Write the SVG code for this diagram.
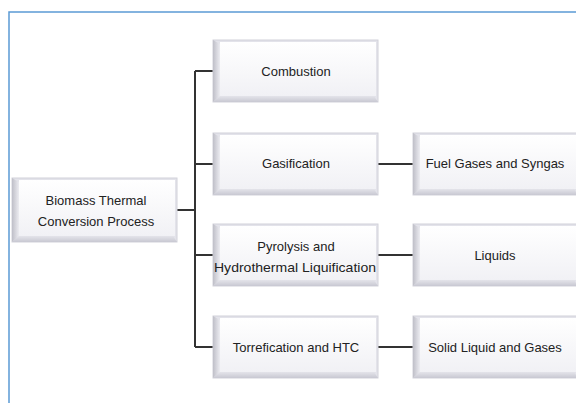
<svg xmlns="http://www.w3.org/2000/svg" width="576" height="403" viewBox="0 0 576 403">
<defs>
<linearGradient id="face" x1="0" y1="0" x2="0" y2="1">
<stop offset="0" stop-color="#ffffff"/>
<stop offset="1" stop-color="#f1f1f5"/>
</linearGradient>
<linearGradient id="lside" x1="0" y1="0" x2="1" y2="0">
<stop offset="0" stop-color="#bfbfc8"/>
<stop offset="1" stop-color="#ececf1"/>
</linearGradient>
<linearGradient id="bside" x1="0" y1="0" x2="0" y2="1">
<stop offset="0" stop-color="#e4e4ea"/>
<stop offset="1" stop-color="#c8c8d2"/>
</linearGradient>
</defs>
<style>
.edge{fill:#e3e3ea;stroke:#d2d2da;stroke-width:1}
.face{fill:url(#face)}
.ls{fill:url(#lside)}
.bs{fill:url(#bside)}
.t{font-family:"Liberation Sans",Arial,sans-serif;font-size:13px;fill:#222;text-anchor:middle}
.c{stroke:#333;stroke-width:2;fill:none}
.frame{stroke:#5b9bd5;stroke-width:1.5;fill:none}
</style>
<path class="frame" d="M9,403 V12 H576"/>
<g id="connectors">
<path class="c" d="M177,210 H195"/>
<path class="c" d="M195,71 V347"/>
<path class="c" d="M195,71 H213 M195,164 H213 M195,255 H213 M195,347 H213"/>
<path class="c" d="M378,164 H413 M378,255 H413 M378,347 H413"/>
</g>
<g id="biomass">
<rect class="edge" x="12" y="178" width="165" height="64"/>
<polygon class="ls" points="12,178 19,182 19,236 12,242"/>
<polygon class="bs" points="19,236 173,236 177,242 12,242"/>
<rect class="face" x="19" y="180" width="156" height="56"/>
<text class="t" x="96" y="205">Biomass Thermal</text>
<text class="t" x="96" y="226">Conversion Process</text>
</g>
<g id="combustion">
<rect class="edge" x="213" y="40" width="165" height="62"/>
<polygon class="ls" points="213,40 220,44 220,96 213,102"/>
<polygon class="bs" points="220,96 374,96 378,102 213,102"/>
<rect class="face" x="220" y="42" width="156" height="54"/>
<text class="t" x="296" y="76">Combustion</text>
</g>
<g id="gasification">
<rect class="edge" x="213" y="133" width="165" height="62"/>
<polygon class="ls" points="213,133 220,137 220,189 213,195"/>
<polygon class="bs" points="220,189 374,189 378,195 213,195"/>
<rect class="face" x="220" y="135" width="156" height="54"/>
<text class="t" x="296" y="168">Gasification</text>
</g>
<g id="pyrolysis">
<rect class="edge" x="213" y="224" width="165" height="62"/>
<polygon class="ls" points="213,224 220,228 220,280 213,286"/>
<polygon class="bs" points="220,280 374,280 378,286 213,286"/>
<rect class="face" x="220" y="226" width="156" height="54"/>
<text class="t" x="296" y="251">Pyrolysis and</text>
<text class="t" x="295" y="272" textLength="162" lengthAdjust="spacingAndGlyphs">Hydrothermal Liquification</text>
</g>
<g id="torrefication">
<rect class="edge" x="213" y="316" width="165" height="62"/>
<polygon class="ls" points="213,316 220,320 220,372 213,378"/>
<polygon class="bs" points="220,372 374,372 378,378 213,378"/>
<rect class="face" x="220" y="318" width="156" height="54"/>
<text class="t" x="296" y="352">Torrefication and HTC</text>
</g>
<g id="fuelgases">
<rect class="edge" x="413" y="133" width="165" height="62"/>
<polygon class="ls" points="413,133 420,137 420,189 413,195"/>
<polygon class="bs" points="420,189 574,189 578,195 413,195"/>
<rect class="face" x="420" y="135" width="156" height="54"/>
<text class="t" x="495" y="168">Fuel Gases and Syngas</text>
</g>
<g id="liquids">
<rect class="edge" x="413" y="224" width="165" height="62"/>
<polygon class="ls" points="413,224 420,228 420,280 413,286"/>
<polygon class="bs" points="420,280 574,280 578,286 413,286"/>
<rect class="face" x="420" y="226" width="156" height="54"/>
<text class="t" x="495" y="260">Liquids</text>
</g>
<g id="solids">
<rect class="edge" x="413" y="316" width="165" height="62"/>
<polygon class="ls" points="413,316 420,320 420,372 413,378"/>
<polygon class="bs" points="420,372 574,372 578,378 413,378"/>
<rect class="face" x="420" y="318" width="156" height="54"/>
<text class="t" x="495" y="352">Solid Liquid and Gases</text>
</g>
</svg>
